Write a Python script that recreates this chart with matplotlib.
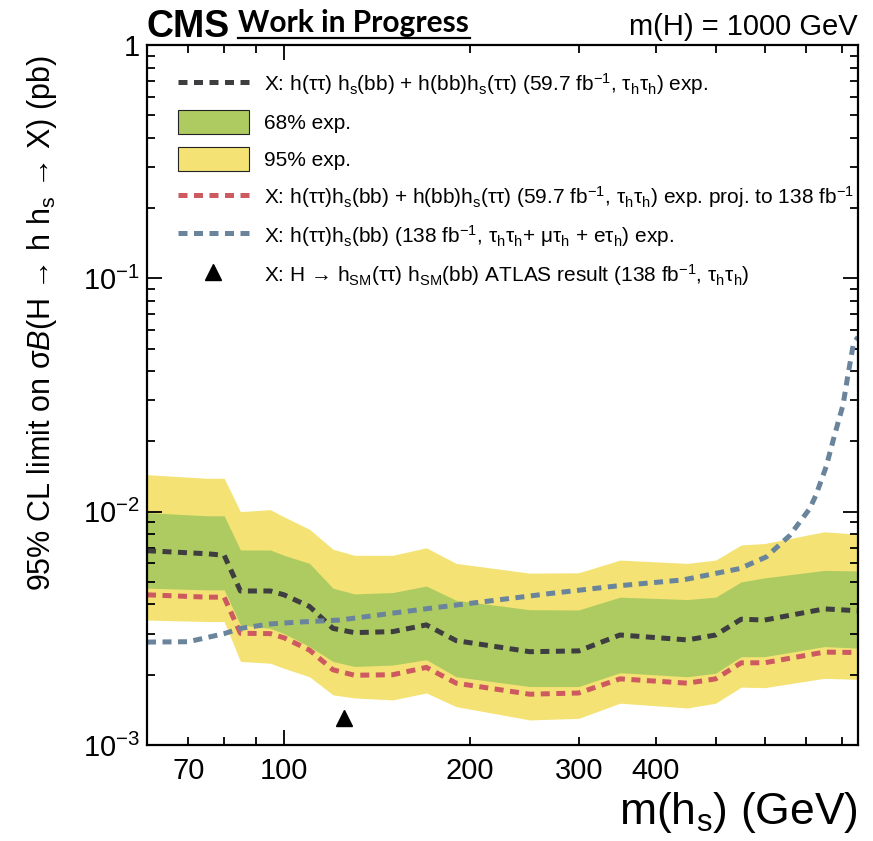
import matplotlib
matplotlib.use("Agg")
import matplotlib.pyplot as plt
from matplotlib.lines import Line2D
from matplotlib.patches import Patch
from matplotlib.ticker import FuncFormatter, LogLocator, NullFormatter
import numpy as np

plt.rcParams['font.family'] = ['Liberation Sans', 'DejaVu Sans']
plt.rcParams['mathtext.fontset'] = 'custom'
plt.rcParams['mathtext.rm'] = 'Liberation Sans'
plt.rcParams['mathtext.it'] = 'Liberation Sans:italic'
plt.rcParams['mathtext.bf'] = 'Liberation Sans:bold'

# m(hs) grid of the 59.7 fb-1 tautau analysis (GeV)
mass = [60, 75, 80, 85, 95, 100, 110, 120, 130, 150, 170, 190,
        250, 300, 350, 450, 500, 550, 600, 750, 850]
exp_median = [0.0068, 0.0066, 0.0065, 0.00457, 0.00457, 0.0044, 0.00392, 0.00316,
              0.00303, 0.00306, 0.00327, 0.0028, 0.00251, 0.00253, 0.00296, 0.00282,
              0.00296, 0.00346, 0.00343, 0.00383, 0.00376]
exp_68_hi = [0.0099, 0.0096, 0.0096, 0.00685, 0.00685, 0.0065, 0.006, 0.0047,
             0.00444, 0.0045, 0.0048, 0.00417, 0.0038, 0.00379, 0.0043, 0.0042,
             0.0043, 0.005, 0.0052, 0.0056, 0.00557]
exp_68_lo = [0.0047, 0.00462, 0.00462, 0.00327, 0.00316, 0.003, 0.00264, 0.00228,
             0.00217, 0.0022, 0.00232, 0.00196, 0.00178, 0.00178, 0.00204, 0.00196,
             0.00203, 0.00239, 0.00239, 0.00264, 0.0026]
exp_95_hi = [0.0144, 0.0139, 0.0139, 0.01, 0.0102, 0.0095, 0.0084, 0.0069,
             0.0065, 0.0065, 0.007, 0.006, 0.00545, 0.00547, 0.0062, 0.006,
             0.0062, 0.0072, 0.0073, 0.0082, 0.008]
exp_95_lo = [0.00343, 0.00338, 0.00338, 0.00228, 0.00224, 0.00213, 0.00196, 0.00164,
             0.00159, 0.00156, 0.00167, 0.00146, 0.00128, 0.0013, 0.00151, 0.00144,
             0.00151, 0.00177, 0.00176, 0.00193, 0.00191]
exp_proj138 = [0.0044, 0.0043, 0.0043, 0.00301, 0.003, 0.00288, 0.00255, 0.0021,
               0.00199, 0.002, 0.00215, 0.00184, 0.00165, 0.00167, 0.00192, 0.00184,
               0.00192, 0.00225, 0.00225, 0.0025, 0.00249]

# full run-2 combination of the three tau channels
mass_comb = [60, 70, 80, 85, 95, 105, 123, 172, 270, 345, 443, 547, 604,
             659, 710, 727, 755, 779, 804, 818, 836, 850]
exp_comb = [0.00276, 0.00277, 0.003, 0.00316, 0.0033, 0.00336, 0.00343, 0.00385,
            0.00446, 0.0048, 0.0051, 0.0057, 0.0064, 0.0079, 0.0103, 0.0118,
            0.0156, 0.0213, 0.0287, 0.0379, 0.0527, 0.056]

# ATLAS point
atlas_mass = [125]
atlas_limit = [0.0013]

c_yellow = '#F4E374'
c_green = '#AECB62'
c_black = '#3E3E40'
c_red = '#CD5A60'
c_blue = '#6A849C'
dash = (0, (1.8, 1.3))

fig = plt.figure(figsize=(8.73, 8.41), dpi=100)
ax = fig.add_axes([0.1684, 0.1142, 0.8144, 0.8323])

ax.fill_between(mass, exp_95_lo, exp_95_hi, color=c_yellow, lw=0)
ax.fill_between(mass, exp_68_lo, exp_68_hi, color=c_green, lw=0)
ax.plot(mass, exp_median, color=c_black, lw=3.6, linestyle=dash, dash_capstyle='butt')
ax.plot(mass, exp_proj138, color=c_red, lw=3.6, linestyle=dash, dash_capstyle='butt')
ax.plot(mass_comb, exp_comb, color=c_blue, lw=3.6, linestyle=dash, dash_capstyle='butt')
ax.plot(atlas_mass, atlas_limit, marker='^', color='black', ms=12, lw=0)

ax.set_xscale('log')
ax.set_yscale('log')
ax.set_xlim(60, 850)
ax.set_ylim(1e-3, 1)

ax.set_xticks([100])
ax.xaxis.set_minor_locator(LogLocator(base=10, subs=range(2, 10)))
ax.xaxis.set_major_formatter(FuncFormatter(lambda v, _: '%d' % round(v)))
ax.xaxis.set_minor_formatter(FuncFormatter(
    lambda v, _: '%d' % round(v) if round(v) in (70, 200, 300, 400) else ''))
ax.yaxis.set_major_locator(LogLocator(base=10))
ax.yaxis.set_minor_locator(LogLocator(base=10, subs=range(2, 10)))
ylabels = {0: '1', -1: r'$10^{-1}$', -2: r'$10^{-2}$', -3: r'$10^{-3}$'}
ax.yaxis.set_major_formatter(FuncFormatter(lambda v, _: ylabels.get(int(round(np.log10(v))), '')))
ax.yaxis.set_minor_formatter(NullFormatter())

ax.tick_params(which='both', direction='in', top=True, right=True, width=1.3, labelsize=21)
ax.tick_params(which='major', length=11)
ax.tick_params(which='minor', length=6)
ax.tick_params(axis='x', which='both', pad=9)
ax.tick_params(axis='y', which='both', pad=5)
for s in ax.spines.values():
    s.set_linewidth(1.6)

handles = [
    Line2D([], [], color=c_black, lw=3.6, linestyle=dash, dash_capstyle='butt'),
    Patch(facecolor=c_green, edgecolor='#222222', lw=0.8),
    Patch(facecolor=c_yellow, edgecolor='#222222', lw=0.8),
    Line2D([], [], color=c_red, lw=3.6, linestyle=dash, dash_capstyle='butt'),
    Line2D([], [], color=c_blue, lw=3.6, linestyle=dash, dash_capstyle='butt'),
    Line2D([], [], color='black', marker='^', ms=12, lw=0),
]
labels = [
    r'X: h(ττ) h$_{\rm s}$(bb) + h(bb)h$_{\rm s}$(ττ) (59.7 fb$^{-1}$, τ$_{\rm h}$τ$_{\rm h}$) exp.',
    '68% exp.',
    '95% exp.',
    r'X: h(ττ)h$_{\rm s}$(bb) + h(bb)h$_{\rm s}$(ττ) (59.7 fb$^{-1}$, τ$_{\rm h}$τ$_{\rm h}$) exp. proj. to 138 fb$^{-1}$',
    r'X: h(ττ)h$_{\rm s}$(bb) (138 fb$^{-1}$, τ$_{\rm h}$τ$_{\rm h}$+ μτ$_{\rm h}$ + eτ$_{\rm h}$) exp.',
    r'X: H → h$_{\rm SM}$(ττ) h$_{\rm SM}$(bb) ATLAS result (138 fb$^{-1}$, τ$_{\rm h}$τ$_{\rm h}$)',
]
ax.legend(handles, labels, loc='upper left', bbox_to_anchor=(0.0436, 0.962),
          frameon=False, fontsize=15, handlelength=3.4, handleheight=1.4,
          handletextpad=0.75, labelspacing=0.62, borderpad=0, borderaxespad=0)

fig.text(147 / 873, 1 - 37 / 841, 'CMS', fontsize=27, fontweight='bold', ha='left', va='baseline')
fig.text(238 / 873, 1 - 32 / 841, 'Work in Progress', fontsize=21.5, fontweight='bold',
         family=['Lato', 'Liberation Sans'], ha='left', va='baseline')
fig.add_artist(Line2D([238 / 873, 470 / 873], [1 - 38 / 841, 1 - 38 / 841], color='black', lw=1.6))
fig.text(858 / 873, 1 - 35 / 841, 'm(H) = 1000 GeV', fontsize=21, ha='right', va='baseline')

fig.text(858 / 873, 1 - 824 / 841, r'm(h$_{\rm s}$) (GeV)', fontsize=32, ha='right', va='baseline')
fig.text(42 / 873, 1 - 55 / 841,
         r'95% CL limit on σ$\mathit{B}$(H → h h$_{\rm s}$ → X) (pb)',
         fontsize=22, rotation=90, ha='center', va='top')

fig.savefig('out.png', dpi=100)
